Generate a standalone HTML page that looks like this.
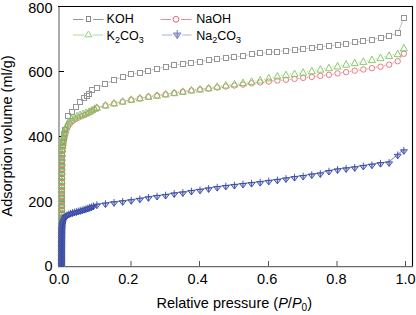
<!DOCTYPE html>
<html><head><meta charset="utf-8">
<style>
html,body{margin:0;padding:0;background:#fff;}
body{width:416px;height:315px;overflow:hidden;position:relative;font-family:"Liberation Sans",sans-serif;}
svg{position:absolute;left:0;top:0;}
</style></head><body>
<svg width="416" height="315" viewBox="0 0 416 315" font-family="Liberation Sans, sans-serif">
<defs><clipPath id="pc"><rect x="57" y="6" width="356" height="261"/></clipPath></defs>
<!-- axes -->
<line x1="59" y1="6" x2="59" y2="267" stroke="#ababab" stroke-width="2"/>
<line x1="58" y1="6.5" x2="413" y2="6.5" stroke="#000" stroke-width="1.1"/>
<line x1="412.5" y1="6" x2="412.5" y2="267" stroke="#000" stroke-width="1.1"/>
<line x1="58" y1="266.6" x2="413" y2="266.6" stroke="#6a6a6a" stroke-width="1.1"/>
<!-- y ticks -->
<g stroke="#000" stroke-width="1">
<line x1="59" y1="71.5" x2="64" y2="71.5"/>
<line x1="59" y1="136.5" x2="64" y2="136.5"/>
<line x1="59" y1="201.5" x2="64" y2="201.5"/>
</g>
<!-- x ticks -->
<g stroke="#555" stroke-width="1">
<line x1="131" y1="261" x2="131" y2="266"/>
<line x1="199.5" y1="261" x2="199.5" y2="266"/>
<line x1="268.5" y1="261" x2="268.5" y2="266"/>
<line x1="337" y1="261" x2="337" y2="266"/>
<line x1="405.5" y1="261" x2="405.5" y2="266"/>
</g>
<g clip-path="url(#pc)">
<path d="M65.72 126.98L67.48 119.32M100.06 86.47L102.61 85.19M108.4 82.47L111.14 81.27M117.08 78.89L119.66 77.95M125.74 75.98L128.18 75.29M134.39 73.76L136.72 73.28M142.98 71.92L145.33 71.38M151.57 69.97L153.92 69.43M160.18 68.06L162.51 67.57M168.8 66.38L171.08 66M177.36 64.77L179.71 64.23M186.01 63.16L188.25 62.91M194.6 62.19L196.84 61.94M203.18 61.1L205.45 60.75M211.79 59.9L214.03 59.64M220.39 58.91L222.62 58.67M228.98 57.96L231.22 57.71M237.54 56.76L239.85 56.32M246.16 55.25L248.43 54.9M254.77 54.06L257.01 53.81M263.36 53.09L265.6 52.84M271.96 52.11L274.2 51.86M280.55 51.14L282.79 50.89M289.15 50.16L291.39 49.91M297.76 49.31L299.97 49.14M306.34 48.52L308.58 48.26M314.93 47.45L317.18 47.14M323.53 46.37L325.76 46.13M332.13 45.45L334.36 45.22M340.71 44.45L342.96 44.14M349.3 43.22L351.57 42.88M357.9 41.96L360.16 41.64M366.47 40.61L368.77 40.19M375.04 38.88L377.4 38.33M383.66 36.98L385.97 36.53M392.15 34.93L394.66 34.1M398.94 30.16L402.66 21.28" fill="none" stroke="#959595" stroke-width="0.8" opacity="0.8"/>
<rect x="59.5" y="263.5" width="5" height="5" fill="none" stroke="#959595" stroke-width="1"/>
<rect x="59.5" y="259.5" width="5" height="5" fill="none" stroke="#959595" stroke-width="1"/>
<rect x="59.5" y="255.5" width="5" height="5" fill="none" stroke="#959595" stroke-width="1"/>
<rect x="59.5" y="251.5" width="5" height="5" fill="none" stroke="#959595" stroke-width="1"/>
<rect x="59.5" y="247.5" width="5" height="5" fill="none" stroke="#959595" stroke-width="1"/>
<rect x="59.5" y="243.5" width="5" height="5" fill="none" stroke="#959595" stroke-width="1"/>
<rect x="59.5" y="239.5" width="5" height="5" fill="none" stroke="#959595" stroke-width="1"/>
<rect x="59.5" y="235.5" width="5" height="5" fill="none" stroke="#959595" stroke-width="1"/>
<rect x="59.5" y="231.5" width="5" height="5" fill="none" stroke="#959595" stroke-width="1"/>
<rect x="59.5" y="227.5" width="5" height="5" fill="none" stroke="#959595" stroke-width="1"/>
<rect x="59.5" y="223.5" width="5" height="5" fill="none" stroke="#959595" stroke-width="1"/>
<rect x="59.5" y="219.5" width="5" height="5" fill="none" stroke="#959595" stroke-width="1"/>
<rect x="59.5" y="215.5" width="5" height="5" fill="none" stroke="#959595" stroke-width="1"/>
<rect x="59.5" y="211.5" width="5" height="5" fill="none" stroke="#959595" stroke-width="1"/>
<rect x="59.5" y="207.5" width="5" height="5" fill="none" stroke="#959595" stroke-width="1"/>
<rect x="59.5" y="203.5" width="5" height="5" fill="none" stroke="#959595" stroke-width="1"/>
<rect x="59.5" y="199.5" width="5" height="5" fill="none" stroke="#959595" stroke-width="1"/>
<rect x="59.5" y="195.5" width="5" height="5" fill="none" stroke="#959595" stroke-width="1"/>
<rect x="59.5" y="191.5" width="5" height="5" fill="none" stroke="#959595" stroke-width="1"/>
<rect x="59.5" y="187.5" width="5" height="5" fill="none" stroke="#959595" stroke-width="1"/>
<rect x="59.5" y="183.5" width="5" height="5" fill="none" stroke="#959595" stroke-width="1"/>
<rect x="59.5" y="179.5" width="5" height="5" fill="none" stroke="#959595" stroke-width="1"/>
<rect x="59.5" y="175.5" width="5" height="5" fill="none" stroke="#959595" stroke-width="1"/>
<rect x="59.5" y="171.5" width="5" height="5" fill="none" stroke="#959595" stroke-width="1"/>
<rect x="59.5" y="167.5" width="5" height="5" fill="none" stroke="#959595" stroke-width="1"/>
<rect x="59.5" y="163.5" width="5" height="5" fill="none" stroke="#959595" stroke-width="1"/>
<rect x="59.5" y="159.5" width="5" height="5" fill="none" stroke="#959595" stroke-width="1"/>
<rect x="59.5" y="155.5" width="5" height="5" fill="none" stroke="#959595" stroke-width="1"/>
<rect x="59.5" y="151.5" width="5" height="5" fill="none" stroke="#959595" stroke-width="1"/>
<rect x="59.5" y="147.5" width="5" height="5" fill="none" stroke="#959595" stroke-width="1"/>
<rect x="60.5" y="143.5" width="5" height="5" fill="none" stroke="#959595" stroke-width="1"/>
<rect x="60.5" y="139.5" width="5" height="5" fill="none" stroke="#959595" stroke-width="1"/>
<rect x="61.5" y="135.5" width="5" height="5" fill="none" stroke="#959595" stroke-width="1"/>
<rect x="61.5" y="131.5" width="5" height="5" fill="none" stroke="#959595" stroke-width="1"/>
<rect x="62.5" y="127.5" width="5" height="5" fill="none" stroke="#959595" stroke-width="1"/>
<rect x="65.5" y="113.5" width="5" height="5" fill="none" stroke="#959595" stroke-width="1"/>
<rect x="69.5" y="109.5" width="5" height="5" fill="none" stroke="#959595" stroke-width="1"/>
<rect x="73.5" y="104.5" width="5" height="5" fill="none" stroke="#959595" stroke-width="1"/>
<rect x="77.5" y="99.5" width="5" height="5" fill="none" stroke="#959595" stroke-width="1"/>
<rect x="81.5" y="95.5" width="5" height="5" fill="none" stroke="#959595" stroke-width="1"/>
<rect x="84.5" y="93.5" width="5" height="5" fill="none" stroke="#959595" stroke-width="1"/>
<rect x="86.5" y="91.5" width="5" height="5" fill="none" stroke="#959595" stroke-width="1"/>
<rect x="89.5" y="87.5" width="5" height="5" fill="none" stroke="#959595" stroke-width="1"/>
<rect x="94.5" y="85.5" width="5" height="5" fill="none" stroke="#959595" stroke-width="1"/>
<rect x="102.5" y="81.5" width="5" height="5" fill="none" stroke="#959595" stroke-width="1"/>
<rect x="111.5" y="77.5" width="5" height="5" fill="none" stroke="#959595" stroke-width="1"/>
<rect x="120.5" y="74.5" width="5" height="5" fill="none" stroke="#959595" stroke-width="1"/>
<rect x="128.5" y="71.5" width="5" height="5" fill="none" stroke="#959595" stroke-width="1"/>
<rect x="137.5" y="70.5" width="5" height="5" fill="none" stroke="#959595" stroke-width="1"/>
<rect x="145.5" y="68.5" width="5" height="5" fill="none" stroke="#959595" stroke-width="1"/>
<rect x="154.5" y="66.5" width="5" height="5" fill="none" stroke="#959595" stroke-width="1"/>
<rect x="163.5" y="64.5" width="5" height="5" fill="none" stroke="#959595" stroke-width="1"/>
<rect x="171.5" y="62.5" width="5" height="5" fill="none" stroke="#959595" stroke-width="1"/>
<rect x="180.5" y="61.5" width="5" height="5" fill="none" stroke="#959595" stroke-width="1"/>
<rect x="188.5" y="60.5" width="5" height="5" fill="none" stroke="#959595" stroke-width="1"/>
<rect x="197.5" y="59.5" width="5" height="5" fill="none" stroke="#959595" stroke-width="1"/>
<rect x="206.5" y="57.5" width="5" height="5" fill="none" stroke="#959595" stroke-width="1"/>
<rect x="214.5" y="56.5" width="5" height="5" fill="none" stroke="#959595" stroke-width="1"/>
<rect x="223.5" y="55.5" width="5" height="5" fill="none" stroke="#959595" stroke-width="1"/>
<rect x="231.5" y="54.5" width="5" height="5" fill="none" stroke="#959595" stroke-width="1"/>
<rect x="240.5" y="53.5" width="5" height="5" fill="none" stroke="#959595" stroke-width="1"/>
<rect x="249.5" y="51.5" width="5" height="5" fill="none" stroke="#959595" stroke-width="1"/>
<rect x="257.5" y="50.5" width="5" height="5" fill="none" stroke="#959595" stroke-width="1"/>
<rect x="266.5" y="49.5" width="5" height="5" fill="none" stroke="#959595" stroke-width="1"/>
<rect x="274.5" y="49.5" width="5" height="5" fill="none" stroke="#959595" stroke-width="1"/>
<rect x="283.5" y="48.5" width="5" height="5" fill="none" stroke="#959595" stroke-width="1"/>
<rect x="292.5" y="47.5" width="5" height="5" fill="none" stroke="#959595" stroke-width="1"/>
<rect x="300.5" y="46.5" width="5" height="5" fill="none" stroke="#959595" stroke-width="1"/>
<rect x="309.5" y="45.5" width="5" height="5" fill="none" stroke="#959595" stroke-width="1"/>
<rect x="317.5" y="44.5" width="5" height="5" fill="none" stroke="#959595" stroke-width="1"/>
<rect x="326.5" y="43.5" width="5" height="5" fill="none" stroke="#959595" stroke-width="1"/>
<rect x="335.5" y="42.5" width="5" height="5" fill="none" stroke="#959595" stroke-width="1"/>
<rect x="343.5" y="41.5" width="5" height="5" fill="none" stroke="#959595" stroke-width="1"/>
<rect x="352.5" y="39.5" width="5" height="5" fill="none" stroke="#959595" stroke-width="1"/>
<rect x="360.5" y="38.5" width="5" height="5" fill="none" stroke="#959595" stroke-width="1"/>
<rect x="369.5" y="37.5" width="5" height="5" fill="none" stroke="#959595" stroke-width="1"/>
<rect x="378.5" y="35.5" width="5" height="5" fill="none" stroke="#959595" stroke-width="1"/>
<rect x="386.5" y="33.5" width="5" height="5" fill="none" stroke="#959595" stroke-width="1"/>
<rect x="395.5" y="30.5" width="5" height="5" fill="none" stroke="#959595" stroke-width="1"/>
<rect x="401.5" y="15.5" width="5" height="5" fill="none" stroke="#959595" stroke-width="1"/>
<path d="M100.24 107.07L102.12 106.52M108.88 104.73L110.67 104.3M117.5 102.77L119.24 102.41M126.08 100.94L127.84 100.55M134.72 99.26L136.4 99M143.29 97.8L145.02 97.46M151.92 96.34L153.57 96.12M160.51 95.16L162.18 94.91M169.1 93.87L170.77 93.62M177.69 92.55L179.37 92.29M186.29 91.23L187.96 90.98M194.9 90.09L196.54 89.91M203.5 89.16L205.13 88.99M212.09 88.19L213.74 87.98M220.69 87.13L222.33 86.93M229.28 86.12L230.92 85.94M237.88 85.15L239.52 84.97M246.46 84.05L248.13 83.8M255.07 82.92L256.7 82.76M263.67 82.07L265.3 81.91M272.26 81.17L273.9 80.98M280.86 80.26L282.49 80.1M289.45 79.42L291.08 79.25M298.04 78.49L299.68 78.3M306.64 77.5L308.28 77.31M315.23 76.49L316.88 76.3M323.82 75.44L325.47 75.24M332.4 74.24L334.09 73.97M341 72.89L342.67 72.65M349.59 71.55L351.28 71.26M358.2 70.2L359.86 69.98M366.79 68.98L368.46 68.73M375.37 67.61L377.07 67.31M383.92 65.91L385.7 65.49M392.36 63.39L394.46 62.55M399.93 58.55L401.67 56.43" fill="none" stroke="#e86a78" stroke-width="0.8" opacity="0.8"/>
<circle cx="61.4" cy="263.79" r="2.7" fill="none" stroke="#e86a78" stroke-width="0.9"/>
<circle cx="61.4" cy="259.24" r="2.7" fill="none" stroke="#e86a78" stroke-width="0.9"/>
<circle cx="61.41" cy="254.7" r="2.7" fill="none" stroke="#e86a78" stroke-width="0.9"/>
<circle cx="61.42" cy="250.28" r="2.7" fill="none" stroke="#e86a78" stroke-width="0.9"/>
<circle cx="61.44" cy="245.73" r="2.7" fill="none" stroke="#e86a78" stroke-width="0.9"/>
<circle cx="61.45" cy="241.19" r="2.7" fill="none" stroke="#e86a78" stroke-width="0.9"/>
<circle cx="61.47" cy="236.76" r="2.7" fill="none" stroke="#e86a78" stroke-width="0.9"/>
<circle cx="61.5" cy="232.22" r="2.7" fill="none" stroke="#e86a78" stroke-width="0.9"/>
<circle cx="61.52" cy="227.8" r="2.7" fill="none" stroke="#e86a78" stroke-width="0.9"/>
<circle cx="61.55" cy="223.25" r="2.7" fill="none" stroke="#e86a78" stroke-width="0.9"/>
<circle cx="61.57" cy="218.71" r="2.7" fill="none" stroke="#e86a78" stroke-width="0.9"/>
<circle cx="61.6" cy="214.28" r="2.7" fill="none" stroke="#e86a78" stroke-width="0.9"/>
<circle cx="61.63" cy="209.74" r="2.7" fill="none" stroke="#e86a78" stroke-width="0.9"/>
<circle cx="61.66" cy="205.19" r="2.7" fill="none" stroke="#e86a78" stroke-width="0.9"/>
<circle cx="61.69" cy="200.77" r="2.7" fill="none" stroke="#e86a78" stroke-width="0.9"/>
<circle cx="61.73" cy="196.23" r="2.7" fill="none" stroke="#e86a78" stroke-width="0.9"/>
<circle cx="61.76" cy="191.68" r="2.7" fill="none" stroke="#e86a78" stroke-width="0.9"/>
<circle cx="61.8" cy="187.26" r="2.7" fill="none" stroke="#e86a78" stroke-width="0.9"/>
<circle cx="61.84" cy="182.71" r="2.7" fill="none" stroke="#e86a78" stroke-width="0.9"/>
<circle cx="61.89" cy="178.29" r="2.7" fill="none" stroke="#e86a78" stroke-width="0.9"/>
<circle cx="61.95" cy="173.74" r="2.7" fill="none" stroke="#e86a78" stroke-width="0.9"/>
<circle cx="62.02" cy="169.2" r="2.7" fill="none" stroke="#e86a78" stroke-width="0.9"/>
<circle cx="62.1" cy="164.78" r="2.7" fill="none" stroke="#e86a78" stroke-width="0.9"/>
<circle cx="62.19" cy="160.24" r="2.7" fill="none" stroke="#e86a78" stroke-width="0.9"/>
<circle cx="62.35" cy="155.69" r="2.7" fill="none" stroke="#e86a78" stroke-width="0.9"/>
<circle cx="62.59" cy="151.27" r="2.7" fill="none" stroke="#e86a78" stroke-width="0.9"/>
<circle cx="62.94" cy="146.74" r="2.7" fill="none" stroke="#e86a78" stroke-width="0.9"/>
<circle cx="63.29" cy="143.33" r="2.7" fill="none" stroke="#e86a78" stroke-width="0.9"/>
<circle cx="63.9" cy="139.81" r="2.7" fill="none" stroke="#e86a78" stroke-width="0.9"/>
<circle cx="64.65" cy="136.44" r="2.7" fill="none" stroke="#e86a78" stroke-width="0.9"/>
<circle cx="65.52" cy="132.98" r="2.7" fill="none" stroke="#e86a78" stroke-width="0.9"/>
<circle cx="66.56" cy="129.64" r="2.7" fill="none" stroke="#e86a78" stroke-width="0.9"/>
<circle cx="67.94" cy="126.42" r="2.7" fill="none" stroke="#e86a78" stroke-width="0.9"/>
<circle cx="69.94" cy="123.61" r="2.7" fill="none" stroke="#e86a78" stroke-width="0.9"/>
<circle cx="72.4" cy="121.22" r="2.7" fill="none" stroke="#e86a78" stroke-width="0.9"/>
<circle cx="75.35" cy="119.17" r="2.7" fill="none" stroke="#e86a78" stroke-width="0.9"/>
<circle cx="78.41" cy="117.62" r="2.7" fill="none" stroke="#e86a78" stroke-width="0.9"/>
<circle cx="81.69" cy="116.2" r="2.7" fill="none" stroke="#e86a78" stroke-width="0.9"/>
<circle cx="84.87" cy="114.87" r="2.7" fill="none" stroke="#e86a78" stroke-width="0.9"/>
<circle cx="88.13" cy="113.44" r="2.7" fill="none" stroke="#e86a78" stroke-width="0.9"/>
<circle cx="91.1" cy="111.71" r="2.7" fill="none" stroke="#e86a78" stroke-width="0.9"/>
<circle cx="93.95" cy="109.7" r="2.7" fill="none" stroke="#e86a78" stroke-width="0.9"/>
<circle cx="96.88" cy="108.05" r="2.7" fill="none" stroke="#e86a78" stroke-width="0.9"/>
<circle cx="105.47" cy="105.54" r="2.7" fill="none" stroke="#e86a78" stroke-width="0.9"/>
<circle cx="114.07" cy="103.49" r="2.7" fill="none" stroke="#e86a78" stroke-width="0.9"/>
<circle cx="122.66" cy="101.7" r="2.7" fill="none" stroke="#e86a78" stroke-width="0.9"/>
<circle cx="131.26" cy="99.79" r="2.7" fill="none" stroke="#e86a78" stroke-width="0.9"/>
<circle cx="139.85" cy="98.47" r="2.7" fill="none" stroke="#e86a78" stroke-width="0.9"/>
<circle cx="148.45" cy="96.79" r="2.7" fill="none" stroke="#e86a78" stroke-width="0.9"/>
<circle cx="157.04" cy="95.67" r="2.7" fill="none" stroke="#e86a78" stroke-width="0.9"/>
<circle cx="165.64" cy="94.39" r="2.7" fill="none" stroke="#e86a78" stroke-width="0.9"/>
<circle cx="174.23" cy="93.1" r="2.7" fill="none" stroke="#e86a78" stroke-width="0.9"/>
<circle cx="182.83" cy="91.74" r="2.7" fill="none" stroke="#e86a78" stroke-width="0.9"/>
<circle cx="191.42" cy="90.47" r="2.7" fill="none" stroke="#e86a78" stroke-width="0.9"/>
<circle cx="200.02" cy="89.52" r="2.7" fill="none" stroke="#e86a78" stroke-width="0.9"/>
<circle cx="208.61" cy="88.63" r="2.7" fill="none" stroke="#e86a78" stroke-width="0.9"/>
<circle cx="217.21" cy="87.54" r="2.7" fill="none" stroke="#e86a78" stroke-width="0.9"/>
<circle cx="225.8" cy="86.52" r="2.7" fill="none" stroke="#e86a78" stroke-width="0.9"/>
<circle cx="234.4" cy="85.54" r="2.7" fill="none" stroke="#e86a78" stroke-width="0.9"/>
<circle cx="242.99" cy="84.57" r="2.7" fill="none" stroke="#e86a78" stroke-width="0.9"/>
<circle cx="251.59" cy="83.27" r="2.7" fill="none" stroke="#e86a78" stroke-width="0.9"/>
<circle cx="260.18" cy="82.41" r="2.7" fill="none" stroke="#e86a78" stroke-width="0.9"/>
<circle cx="268.78" cy="81.56" r="2.7" fill="none" stroke="#e86a78" stroke-width="0.9"/>
<circle cx="277.38" cy="80.59" r="2.7" fill="none" stroke="#e86a78" stroke-width="0.9"/>
<circle cx="285.97" cy="79.78" r="2.7" fill="none" stroke="#e86a78" stroke-width="0.9"/>
<circle cx="294.56" cy="78.9" r="2.7" fill="none" stroke="#e86a78" stroke-width="0.9"/>
<circle cx="303.16" cy="77.89" r="2.7" fill="none" stroke="#e86a78" stroke-width="0.9"/>
<circle cx="311.75" cy="76.92" r="2.7" fill="none" stroke="#e86a78" stroke-width="0.9"/>
<circle cx="320.35" cy="75.88" r="2.7" fill="none" stroke="#e86a78" stroke-width="0.9"/>
<circle cx="328.94" cy="74.8" r="2.7" fill="none" stroke="#e86a78" stroke-width="0.9"/>
<circle cx="337.54" cy="73.4" r="2.7" fill="none" stroke="#e86a78" stroke-width="0.9"/>
<circle cx="346.13" cy="72.14" r="2.7" fill="none" stroke="#e86a78" stroke-width="0.9"/>
<circle cx="354.73" cy="70.68" r="2.7" fill="none" stroke="#e86a78" stroke-width="0.9"/>
<circle cx="363.32" cy="69.5" r="2.7" fill="none" stroke="#e86a78" stroke-width="0.9"/>
<circle cx="371.92" cy="68.2" r="2.7" fill="none" stroke="#e86a78" stroke-width="0.9"/>
<circle cx="380.51" cy="66.71" r="2.7" fill="none" stroke="#e86a78" stroke-width="0.9"/>
<circle cx="389.11" cy="64.7" r="2.7" fill="none" stroke="#e86a78" stroke-width="0.9"/>
<circle cx="397.7" cy="61.25" r="2.7" fill="none" stroke="#e86a78" stroke-width="0.9"/>
<circle cx="403.89" cy="53.73" r="2.7" fill="none" stroke="#e86a78" stroke-width="0.9"/>
<path d="M100.55 106.56L101.81 106.21M109.17 104.33L110.37 104.05M117.79 102.39L118.95 102.15M126.38 100.56L127.55 100.31M135.01 98.91L136.1 98.74M143.59 97.44L144.72 97.23M152.22 96.05L153.27 95.92M160.8 94.89L161.88 94.73M169.4 93.6L170.48 93.44M177.99 92.28L179.08 92.11M186.58 90.92L187.67 90.75M195.2 89.73L196.24 89.62M203.78 88.68L204.85 88.53M212.35 87.33L213.47 87.12M220.97 85.91L222.04 85.76M229.57 84.73L230.63 84.59M238.16 83.53L239.24 83.37M246.75 82.24L247.83 82.07M255.34 80.92L256.43 80.75M263.88 79.3L265.08 79.02M272.49 77.31L273.67 77.04M281.13 75.63L282.21 75.47M289.74 74.42L290.8 74.28M298.32 73.19L299.41 73.01M306.91 71.79L308 71.61M315.49 70.29L316.62 70.08M324.1 68.74L325.2 68.55M332.67 67.17L333.81 66.94M341.25 65.39L342.42 65.14M349.88 63.7L350.98 63.51M358.49 62.31L359.57 62.14M367.05 60.8L368.2 60.56M375.62 58.93L376.81 58.66M384.2 56.86L385.43 56.54M392.84 54.86L393.98 54.63M400.46 51.28L401.13 50.65" fill="none" stroke="#7cc45a" stroke-width="0.8" opacity="0.8"/>
<path d="M61.4 262.3 L64.9 268.8 L57.9 268.8 Z" fill="none" stroke="#7cc45a" stroke-width="0.9"/>
<path d="M61.4 257.74 L64.9 264.24 L57.9 264.24 Z" fill="none" stroke="#7cc45a" stroke-width="0.9"/>
<path d="M61.41 253.18 L64.91 259.68 L57.91 259.68 Z" fill="none" stroke="#7cc45a" stroke-width="0.9"/>
<path d="M61.41 248.75 L64.91 255.25 L57.91 255.25 Z" fill="none" stroke="#7cc45a" stroke-width="0.9"/>
<path d="M61.42 244.19 L64.92 250.69 L57.92 250.69 Z" fill="none" stroke="#7cc45a" stroke-width="0.9"/>
<path d="M61.43 239.75 L64.93 246.25 L57.93 246.25 Z" fill="none" stroke="#7cc45a" stroke-width="0.9"/>
<path d="M61.45 235.2 L64.95 241.7 L57.95 241.7 Z" fill="none" stroke="#7cc45a" stroke-width="0.9"/>
<path d="M61.46 230.76 L64.96 237.26 L57.96 237.26 Z" fill="none" stroke="#7cc45a" stroke-width="0.9"/>
<path d="M61.48 226.2 L64.98 232.7 L57.98 232.7 Z" fill="none" stroke="#7cc45a" stroke-width="0.9"/>
<path d="M61.49 221.77 L64.99 228.27 L57.99 228.27 Z" fill="none" stroke="#7cc45a" stroke-width="0.9"/>
<path d="M61.51 217.21 L65.01 223.71 L58.01 223.71 Z" fill="none" stroke="#7cc45a" stroke-width="0.9"/>
<path d="M61.53 212.77 L65.03 219.27 L58.03 219.27 Z" fill="none" stroke="#7cc45a" stroke-width="0.9"/>
<path d="M61.55 208.21 L65.05 214.71 L58.05 214.71 Z" fill="none" stroke="#7cc45a" stroke-width="0.9"/>
<path d="M61.57 203.78 L65.07 210.28 L58.07 210.28 Z" fill="none" stroke="#7cc45a" stroke-width="0.9"/>
<path d="M61.59 199.22 L65.09 205.72 L58.09 205.72 Z" fill="none" stroke="#7cc45a" stroke-width="0.9"/>
<path d="M61.61 194.79 L65.11 201.29 L58.11 201.29 Z" fill="none" stroke="#7cc45a" stroke-width="0.9"/>
<path d="M61.63 190.23 L65.13 196.73 L58.13 196.73 Z" fill="none" stroke="#7cc45a" stroke-width="0.9"/>
<path d="M61.65 185.79 L65.15 192.29 L58.15 192.29 Z" fill="none" stroke="#7cc45a" stroke-width="0.9"/>
<path d="M61.67 181.23 L65.17 187.73 L58.17 187.73 Z" fill="none" stroke="#7cc45a" stroke-width="0.9"/>
<path d="M61.7 176.8 L65.2 183.3 L58.2 183.3 Z" fill="none" stroke="#7cc45a" stroke-width="0.9"/>
<path d="M61.73 172.24 L65.23 178.74 L58.23 178.74 Z" fill="none" stroke="#7cc45a" stroke-width="0.9"/>
<path d="M61.77 167.68 L65.27 174.18 L58.27 174.18 Z" fill="none" stroke="#7cc45a" stroke-width="0.9"/>
<path d="M61.81 163.24 L65.31 169.74 L58.31 169.74 Z" fill="none" stroke="#7cc45a" stroke-width="0.9"/>
<path d="M61.87 158.69 L65.37 165.19 L58.37 165.19 Z" fill="none" stroke="#7cc45a" stroke-width="0.9"/>
<path d="M61.94 154.25 L65.44 160.75 L58.44 160.75 Z" fill="none" stroke="#7cc45a" stroke-width="0.9"/>
<path d="M62.1 149.69 L65.6 156.19 L58.6 156.19 Z" fill="none" stroke="#7cc45a" stroke-width="0.9"/>
<path d="M62.33 145.26 L65.83 151.76 L58.83 151.76 Z" fill="none" stroke="#7cc45a" stroke-width="0.9"/>
<path d="M62.54 142.07 L66.04 148.57 L59.04 148.57 Z" fill="none" stroke="#7cc45a" stroke-width="0.9"/>
<path d="M62.84 138.88 L66.34 145.38 L59.34 145.38 Z" fill="none" stroke="#7cc45a" stroke-width="0.9"/>
<path d="M63.29 135.71 L66.79 142.21 L59.79 142.21 Z" fill="none" stroke="#7cc45a" stroke-width="0.9"/>
<path d="M63.86 132.55 L67.36 139.05 L60.36 139.05 Z" fill="none" stroke="#7cc45a" stroke-width="0.9"/>
<path d="M64.49 129.41 L67.99 135.91 L60.99 135.91 Z" fill="none" stroke="#7cc45a" stroke-width="0.9"/>
<path d="M65.27 126.26 L68.77 132.76 L61.77 132.76 Z" fill="none" stroke="#7cc45a" stroke-width="0.9"/>
<path d="M66.25 123.22 L69.75 129.72 L62.75 129.72 Z" fill="none" stroke="#7cc45a" stroke-width="0.9"/>
<path d="M67.54 120.3 L71.04 126.8 L64.04 126.8 Z" fill="none" stroke="#7cc45a" stroke-width="0.9"/>
<path d="M69.25 117.67 L72.75 124.17 L65.75 124.17 Z" fill="none" stroke="#7cc45a" stroke-width="0.9"/>
<path d="M71.57 115.43 L75.07 121.93 L68.07 121.93 Z" fill="none" stroke="#7cc45a" stroke-width="0.9"/>
<path d="M74.22 113.73 L77.72 120.23 L70.72 120.23 Z" fill="none" stroke="#7cc45a" stroke-width="0.9"/>
<path d="M77.08 112.29 L80.58 118.79 L73.58 118.79 Z" fill="none" stroke="#7cc45a" stroke-width="0.9"/>
<path d="M80.05 111.08 L83.55 117.58 L76.55 117.58 Z" fill="none" stroke="#7cc45a" stroke-width="0.9"/>
<path d="M83.08 110.02 L86.58 116.52 L79.58 116.52 Z" fill="none" stroke="#7cc45a" stroke-width="0.9"/>
<path d="M86.12 109.01 L89.62 115.51 L82.62 115.51 Z" fill="none" stroke="#7cc45a" stroke-width="0.9"/>
<path d="M89.08 107.82 L92.58 114.32 L85.58 114.32 Z" fill="none" stroke="#7cc45a" stroke-width="0.9"/>
<path d="M91.93 106.3 L95.43 112.8 L88.43 112.8 Z" fill="none" stroke="#7cc45a" stroke-width="0.9"/>
<path d="M94.76 104.77 L98.26 111.27 L91.26 111.27 Z" fill="none" stroke="#7cc45a" stroke-width="0.9"/>
<path d="M96.88 103.86 L100.38 110.36 L93.38 110.36 Z" fill="none" stroke="#7cc45a" stroke-width="0.9"/>
<path d="M105.47 101.51 L108.97 108.01 L101.97 108.01 Z" fill="none" stroke="#7cc45a" stroke-width="0.9"/>
<path d="M114.07 99.47 L117.57 105.97 L110.57 105.97 Z" fill="none" stroke="#7cc45a" stroke-width="0.9"/>
<path d="M122.66 97.67 L126.16 104.17 L119.16 104.17 Z" fill="none" stroke="#7cc45a" stroke-width="0.9"/>
<path d="M131.26 95.8 L134.76 102.3 L127.76 102.3 Z" fill="none" stroke="#7cc45a" stroke-width="0.9"/>
<path d="M139.85 94.44 L143.35 100.94 L136.35 100.94 Z" fill="none" stroke="#7cc45a" stroke-width="0.9"/>
<path d="M148.45 92.82 L151.95 99.32 L144.95 99.32 Z" fill="none" stroke="#7cc45a" stroke-width="0.9"/>
<path d="M157.04 91.74 L160.54 98.24 L153.54 98.24 Z" fill="none" stroke="#7cc45a" stroke-width="0.9"/>
<path d="M165.64 90.47 L169.14 96.97 L162.14 96.97 Z" fill="none" stroke="#7cc45a" stroke-width="0.9"/>
<path d="M174.23 89.17 L177.73 95.67 L170.73 95.67 Z" fill="none" stroke="#7cc45a" stroke-width="0.9"/>
<path d="M182.83 87.82 L186.33 94.32 L179.33 94.32 Z" fill="none" stroke="#7cc45a" stroke-width="0.9"/>
<path d="M191.42 86.45 L194.92 92.95 L187.92 92.95 Z" fill="none" stroke="#7cc45a" stroke-width="0.9"/>
<path d="M200.02 85.5 L203.52 92 L196.52 92 Z" fill="none" stroke="#7cc45a" stroke-width="0.9"/>
<path d="M208.61 84.31 L212.11 90.81 L205.11 90.81 Z" fill="none" stroke="#7cc45a" stroke-width="0.9"/>
<path d="M217.21 82.74 L220.71 89.24 L213.71 89.24 Z" fill="none" stroke="#7cc45a" stroke-width="0.9"/>
<path d="M225.8 81.53 L229.3 88.03 L222.3 88.03 Z" fill="none" stroke="#7cc45a" stroke-width="0.9"/>
<path d="M234.4 80.4 L237.9 86.9 L230.9 86.9 Z" fill="none" stroke="#7cc45a" stroke-width="0.9"/>
<path d="M242.99 79.1 L246.49 85.6 L239.49 85.6 Z" fill="none" stroke="#7cc45a" stroke-width="0.9"/>
<path d="M251.59 77.81 L255.09 84.31 L248.09 84.31 Z" fill="none" stroke="#7cc45a" stroke-width="0.9"/>
<path d="M260.18 76.46 L263.68 82.96 L256.68 82.96 Z" fill="none" stroke="#7cc45a" stroke-width="0.9"/>
<path d="M268.78 74.45 L272.28 80.95 L265.28 80.95 Z" fill="none" stroke="#7cc45a" stroke-width="0.9"/>
<path d="M277.38 72.5 L280.88 79 L273.88 79 Z" fill="none" stroke="#7cc45a" stroke-width="0.9"/>
<path d="M285.97 71.2 L289.47 77.7 L282.47 77.7 Z" fill="none" stroke="#7cc45a" stroke-width="0.9"/>
<path d="M294.56 70.1 L298.06 76.6 L291.06 76.6 Z" fill="none" stroke="#7cc45a" stroke-width="0.9"/>
<path d="M303.16 68.7 L306.66 75.2 L299.66 75.2 Z" fill="none" stroke="#7cc45a" stroke-width="0.9"/>
<path d="M311.75 67.3 L315.25 73.8 L308.25 73.8 Z" fill="none" stroke="#7cc45a" stroke-width="0.9"/>
<path d="M320.35 65.67 L323.85 72.17 L316.85 72.17 Z" fill="none" stroke="#7cc45a" stroke-width="0.9"/>
<path d="M328.94 64.21 L332.44 70.71 L325.44 70.71 Z" fill="none" stroke="#7cc45a" stroke-width="0.9"/>
<path d="M337.54 62.49 L341.04 68.99 L334.04 68.99 Z" fill="none" stroke="#7cc45a" stroke-width="0.9"/>
<path d="M346.13 60.64 L349.63 67.14 L342.63 67.14 Z" fill="none" stroke="#7cc45a" stroke-width="0.9"/>
<path d="M354.73 59.18 L358.23 65.68 L351.23 65.68 Z" fill="none" stroke="#7cc45a" stroke-width="0.9"/>
<path d="M363.32 57.87 L366.82 64.38 L359.82 64.38 Z" fill="none" stroke="#7cc45a" stroke-width="0.9"/>
<path d="M371.92 56.09 L375.42 62.59 L368.42 62.59 Z" fill="none" stroke="#7cc45a" stroke-width="0.9"/>
<path d="M380.51 54.11 L384.01 60.61 L377.01 60.61 Z" fill="none" stroke="#7cc45a" stroke-width="0.9"/>
<path d="M389.11 51.9 L392.61 58.4 L385.61 58.4 Z" fill="none" stroke="#7cc45a" stroke-width="0.9"/>
<path d="M397.7 50.19 L401.2 56.69 L394.2 56.69 Z" fill="none" stroke="#7cc45a" stroke-width="0.9"/>
<path d="M403.89 44.33 L407.39 50.83 L400.39 50.83 Z" fill="none" stroke="#7cc45a" stroke-width="0.9"/>
<path d="M61.6 264.9L61.6 262.8M61.6 262.8L61.6 260.8M61.6 260.8L61.61 258.81M61.61 258.81L61.61 256.81M61.61 256.81L61.62 254.81M61.62 254.81L61.62 252.81M61.62 252.81L61.63 250.82M61.63 250.82L61.64 248.82M61.64 248.82L61.65 246.82M61.65 246.82L61.66 244.82M61.66 244.82L61.67 242.83M61.67 242.83L61.69 240.83M61.69 240.83L61.7 238.83M61.7 238.83L61.72 236.83M61.72 236.83L61.75 234.84M61.75 234.84L61.79 232.84M61.79 232.84L61.84 230.84M61.84 230.84L61.9 228.85M61.9 228.85L62.01 226.85M62.01 226.85L62.19 224.85M62.19 224.85L62.43 222.87M62.43 222.87L62.79 220.9M62.79 220.9L63.37 218.95M63.37 218.95L64.18 217.2M64.18 217.2L65.48 215.59M65.48 215.59L66.99 214.36M66.99 214.36L68.76 213.41M68.76 213.41L70.55 212.67M70.55 212.67L72.52 211.98M72.52 211.98L74.43 211.41M74.43 211.41L76.37 210.9M76.37 210.9L78.31 210.38M78.31 210.38L80.23 209.83M80.23 209.83L82.14 209.25M82.14 209.25L84.05 208.65M84.05 208.65L85.95 208.05M85.95 208.05L87.85 207.43M87.85 207.43L89.74 206.79M89.74 206.79L91.62 206.07M91.62 206.07L93.38 205.31M93.38 205.31L96.88 204.12M96.88 204.12L105.47 203.03M105.47 203.03L114.07 201.78M114.07 201.78L122.66 200.79M122.66 200.79L131.26 199.72M131.26 199.72L139.85 198.29M139.85 198.29L148.45 196.82M148.45 196.82L157.04 195.48M157.04 195.48L165.64 194.54M165.64 194.54L174.23 192.91M174.23 192.91L182.83 191.91M182.83 191.91L191.42 190.48M191.42 190.48L200.02 189.31M200.02 189.31L208.61 187.88M208.61 187.88L217.21 186.58M217.21 186.58L225.8 185.44M225.8 185.44L234.4 184.46M234.4 184.46L242.99 183.44M242.99 183.44L251.59 182.58M251.59 182.58L260.18 181.59M260.18 181.59L268.78 180.4M268.78 180.4L277.38 179.39M277.38 179.39L285.97 177.91M285.97 177.91L294.56 176.59M294.56 176.59L303.16 175.53M303.16 175.53L311.75 174.01M311.75 174.01L320.35 172.91M320.35 172.91L328.94 170.49M328.94 170.49L337.54 168.9M337.54 168.9L346.13 167.87M346.13 167.87L354.73 166.82M354.73 166.82L363.32 165.4M363.32 165.4L371.92 164.15M371.92 164.15L380.51 162.65M380.51 162.65L389.11 161.88M389.11 161.88L397.7 154.29M397.7 154.29L403.89 149.76" fill="none" stroke="#3848a4" stroke-width="0.9" opacity="0.8"/>
<path d="M58.1 264.9 L65.1 264.9 L61.6 269.4 Z M61.6 262.1 L61.6 269.4" fill="#5a68b8" fill-opacity="0.9" stroke="#3848a4" stroke-width="0.9"/>
<path d="M58.1 262.8 L65.1 262.8 L61.6 267.3 Z M61.6 260 L61.6 267.3" fill="#5a68b8" fill-opacity="0.9" stroke="#3848a4" stroke-width="0.9"/>
<path d="M58.1 260.8 L65.1 260.8 L61.6 265.3 Z M61.6 258 L61.6 265.3" fill="#5a68b8" fill-opacity="0.9" stroke="#3848a4" stroke-width="0.9"/>
<path d="M58.11 258.81 L65.11 258.81 L61.61 263.31 Z M61.61 256.01 L61.61 263.31" fill="#5a68b8" fill-opacity="0.9" stroke="#3848a4" stroke-width="0.9"/>
<path d="M58.11 256.81 L65.11 256.81 L61.61 261.31 Z M61.61 254.01 L61.61 261.31" fill="#5a68b8" fill-opacity="0.9" stroke="#3848a4" stroke-width="0.9"/>
<path d="M58.12 254.81 L65.12 254.81 L61.62 259.31 Z M61.62 252.01 L61.62 259.31" fill="#5a68b8" fill-opacity="0.9" stroke="#3848a4" stroke-width="0.9"/>
<path d="M58.12 252.81 L65.12 252.81 L61.62 257.31 Z M61.62 250.01 L61.62 257.31" fill="#5a68b8" fill-opacity="0.9" stroke="#3848a4" stroke-width="0.9"/>
<path d="M58.13 250.82 L65.13 250.82 L61.63 255.32 Z M61.63 248.02 L61.63 255.32" fill="#5a68b8" fill-opacity="0.9" stroke="#3848a4" stroke-width="0.9"/>
<path d="M58.14 248.82 L65.14 248.82 L61.64 253.32 Z M61.64 246.02 L61.64 253.32" fill="#5a68b8" fill-opacity="0.9" stroke="#3848a4" stroke-width="0.9"/>
<path d="M58.15 246.82 L65.15 246.82 L61.65 251.32 Z M61.65 244.02 L61.65 251.32" fill="#5a68b8" fill-opacity="0.9" stroke="#3848a4" stroke-width="0.9"/>
<path d="M58.16 244.82 L65.16 244.82 L61.66 249.32 Z M61.66 242.02 L61.66 249.32" fill="#5a68b8" fill-opacity="0.9" stroke="#3848a4" stroke-width="0.9"/>
<path d="M58.17 242.83 L65.17 242.83 L61.67 247.33 Z M61.67 240.03 L61.67 247.33" fill="#5a68b8" fill-opacity="0.9" stroke="#3848a4" stroke-width="0.9"/>
<path d="M58.19 240.83 L65.19 240.83 L61.69 245.33 Z M61.69 238.03 L61.69 245.33" fill="#5a68b8" fill-opacity="0.9" stroke="#3848a4" stroke-width="0.9"/>
<path d="M58.2 238.83 L65.2 238.83 L61.7 243.33 Z M61.7 236.03 L61.7 243.33" fill="#5a68b8" fill-opacity="0.9" stroke="#3848a4" stroke-width="0.9"/>
<path d="M58.22 236.83 L65.22 236.83 L61.72 241.33 Z M61.72 234.03 L61.72 241.33" fill="#5a68b8" fill-opacity="0.9" stroke="#3848a4" stroke-width="0.9"/>
<path d="M58.25 234.84 L65.25 234.84 L61.75 239.34 Z M61.75 232.04 L61.75 239.34" fill="#5a68b8" fill-opacity="0.9" stroke="#3848a4" stroke-width="0.9"/>
<path d="M58.29 232.84 L65.29 232.84 L61.79 237.34 Z M61.79 230.04 L61.79 237.34" fill="#5a68b8" fill-opacity="0.9" stroke="#3848a4" stroke-width="0.9"/>
<path d="M58.34 230.84 L65.34 230.84 L61.84 235.34 Z M61.84 228.04 L61.84 235.34" fill="#5a68b8" fill-opacity="0.9" stroke="#3848a4" stroke-width="0.9"/>
<path d="M58.4 228.85 L65.4 228.85 L61.9 233.35 Z M61.9 226.05 L61.9 233.35" fill="#5a68b8" fill-opacity="0.9" stroke="#3848a4" stroke-width="0.9"/>
<path d="M58.51 226.85 L65.51 226.85 L62.01 231.35 Z M62.01 224.05 L62.01 231.35" fill="#5a68b8" fill-opacity="0.9" stroke="#3848a4" stroke-width="0.9"/>
<path d="M58.69 224.85 L65.69 224.85 L62.19 229.35 Z M62.19 222.05 L62.19 229.35" fill="#5a68b8" fill-opacity="0.9" stroke="#3848a4" stroke-width="0.9"/>
<path d="M58.93 222.87 L65.93 222.87 L62.43 227.37 Z M62.43 220.07 L62.43 227.37" fill="#5a68b8" fill-opacity="0.9" stroke="#3848a4" stroke-width="0.9"/>
<path d="M59.29 220.9 L66.29 220.9 L62.79 225.4 Z M62.79 218.1 L62.79 225.4" fill="#5a68b8" fill-opacity="0.9" stroke="#3848a4" stroke-width="0.9"/>
<path d="M59.87 218.95 L66.87 218.95 L63.37 223.45 Z M63.37 216.15 L63.37 223.45" fill="#5a68b8" fill-opacity="0.9" stroke="#3848a4" stroke-width="0.9"/>
<path d="M60.68 217.2 L67.68 217.2 L64.18 221.7 Z M64.18 214.4 L64.18 221.7" fill="#5a68b8" fill-opacity="0.9" stroke="#3848a4" stroke-width="0.9"/>
<path d="M61.98 215.59 L68.98 215.59 L65.48 220.09 Z M65.48 212.79 L65.48 220.09" fill="#5a68b8" fill-opacity="0.9" stroke="#3848a4" stroke-width="0.9"/>
<path d="M63.49 214.36 L70.49 214.36 L66.99 218.86 Z M66.99 211.56 L66.99 218.86" fill="#5a68b8" fill-opacity="0.9" stroke="#3848a4" stroke-width="0.9"/>
<path d="M65.26 213.41 L72.26 213.41 L68.76 217.91 Z M68.76 210.61 L68.76 217.91" fill="#5a68b8" fill-opacity="0.9" stroke="#3848a4" stroke-width="0.9"/>
<path d="M67.05 212.67 L74.05 212.67 L70.55 217.17 Z M70.55 209.87 L70.55 217.17" fill="#5a68b8" fill-opacity="0.9" stroke="#3848a4" stroke-width="0.9"/>
<path d="M69.02 211.98 L76.02 211.98 L72.52 216.48 Z M72.52 209.18 L72.52 216.48" fill="#5a68b8" fill-opacity="0.9" stroke="#3848a4" stroke-width="0.9"/>
<path d="M70.93 211.41 L77.93 211.41 L74.43 215.91 Z M74.43 208.61 L74.43 215.91" fill="#5a68b8" fill-opacity="0.9" stroke="#3848a4" stroke-width="0.9"/>
<path d="M72.87 210.9 L79.87 210.9 L76.37 215.4 Z M76.37 208.1 L76.37 215.4" fill="#5a68b8" fill-opacity="0.9" stroke="#3848a4" stroke-width="0.9"/>
<path d="M74.81 210.38 L81.81 210.38 L78.31 214.88 Z M78.31 207.58 L78.31 214.88" fill="#5a68b8" fill-opacity="0.9" stroke="#3848a4" stroke-width="0.9"/>
<path d="M76.73 209.83 L83.73 209.83 L80.23 214.33 Z M80.23 207.03 L80.23 214.33" fill="#5a68b8" fill-opacity="0.9" stroke="#3848a4" stroke-width="0.9"/>
<path d="M78.64 209.25 L85.64 209.25 L82.14 213.75 Z M82.14 206.45 L82.14 213.75" fill="#5a68b8" fill-opacity="0.9" stroke="#3848a4" stroke-width="0.9"/>
<path d="M80.55 208.65 L87.55 208.65 L84.05 213.15 Z M84.05 205.85 L84.05 213.15" fill="#5a68b8" fill-opacity="0.9" stroke="#3848a4" stroke-width="0.9"/>
<path d="M82.45 208.05 L89.45 208.05 L85.95 212.55 Z M85.95 205.25 L85.95 212.55" fill="#5a68b8" fill-opacity="0.9" stroke="#3848a4" stroke-width="0.9"/>
<path d="M84.35 207.43 L91.35 207.43 L87.85 211.93 Z M87.85 204.63 L87.85 211.93" fill="#5a68b8" fill-opacity="0.9" stroke="#3848a4" stroke-width="0.9"/>
<path d="M86.24 206.79 L93.24 206.79 L89.74 211.29 Z M89.74 203.99 L89.74 211.29" fill="#5a68b8" fill-opacity="0.9" stroke="#3848a4" stroke-width="0.9"/>
<path d="M88.12 206.07 L95.12 206.07 L91.62 210.57 Z M91.62 203.27 L91.62 210.57" fill="#5a68b8" fill-opacity="0.9" stroke="#3848a4" stroke-width="0.9"/>
<path d="M89.88 205.31 L96.88 205.31 L93.38 209.81 Z M93.38 202.51 L93.38 209.81" fill="#5a68b8" fill-opacity="0.9" stroke="#3848a4" stroke-width="0.9"/>
<path d="M93.38 204.12 L100.38 204.12 L96.88 208.62 Z M96.88 201.32 L96.88 208.62" fill="#5a68b8" fill-opacity="0.3" stroke="#3848a4" stroke-width="0.9"/>
<path d="M101.97 203.03 L108.97 203.03 L105.47 207.53 Z M105.47 200.23 L105.47 207.53" fill="#5a68b8" fill-opacity="0.3" stroke="#3848a4" stroke-width="0.9"/>
<path d="M110.57 201.78 L117.57 201.78 L114.07 206.28 Z M114.07 198.98 L114.07 206.28" fill="#5a68b8" fill-opacity="0.3" stroke="#3848a4" stroke-width="0.9"/>
<path d="M119.16 200.79 L126.16 200.79 L122.66 205.29 Z M122.66 197.99 L122.66 205.29" fill="#5a68b8" fill-opacity="0.3" stroke="#3848a4" stroke-width="0.9"/>
<path d="M127.76 199.72 L134.76 199.72 L131.26 204.22 Z M131.26 196.92 L131.26 204.22" fill="#5a68b8" fill-opacity="0.3" stroke="#3848a4" stroke-width="0.9"/>
<path d="M136.35 198.29 L143.35 198.29 L139.85 202.79 Z M139.85 195.49 L139.85 202.79" fill="#5a68b8" fill-opacity="0.3" stroke="#3848a4" stroke-width="0.9"/>
<path d="M144.95 196.82 L151.95 196.82 L148.45 201.32 Z M148.45 194.02 L148.45 201.32" fill="#5a68b8" fill-opacity="0.3" stroke="#3848a4" stroke-width="0.9"/>
<path d="M153.54 195.48 L160.54 195.48 L157.04 199.98 Z M157.04 192.68 L157.04 199.98" fill="#5a68b8" fill-opacity="0.3" stroke="#3848a4" stroke-width="0.9"/>
<path d="M162.14 194.54 L169.14 194.54 L165.64 199.04 Z M165.64 191.74 L165.64 199.04" fill="#5a68b8" fill-opacity="0.3" stroke="#3848a4" stroke-width="0.9"/>
<path d="M170.73 192.91 L177.73 192.91 L174.23 197.41 Z M174.23 190.11 L174.23 197.41" fill="#5a68b8" fill-opacity="0.3" stroke="#3848a4" stroke-width="0.9"/>
<path d="M179.33 191.91 L186.33 191.91 L182.83 196.41 Z M182.83 189.1 L182.83 196.41" fill="#5a68b8" fill-opacity="0.3" stroke="#3848a4" stroke-width="0.9"/>
<path d="M187.92 190.48 L194.92 190.48 L191.42 194.98 Z M191.42 187.68 L191.42 194.98" fill="#5a68b8" fill-opacity="0.3" stroke="#3848a4" stroke-width="0.9"/>
<path d="M196.52 189.31 L203.52 189.31 L200.02 193.81 Z M200.02 186.51 L200.02 193.81" fill="#5a68b8" fill-opacity="0.3" stroke="#3848a4" stroke-width="0.9"/>
<path d="M205.11 187.88 L212.11 187.88 L208.61 192.38 Z M208.61 185.07 L208.61 192.38" fill="#5a68b8" fill-opacity="0.3" stroke="#3848a4" stroke-width="0.9"/>
<path d="M213.71 186.58 L220.71 186.58 L217.21 191.08 Z M217.21 183.78 L217.21 191.08" fill="#5a68b8" fill-opacity="0.3" stroke="#3848a4" stroke-width="0.9"/>
<path d="M222.3 185.44 L229.3 185.44 L225.8 189.94 Z M225.8 182.64 L225.8 189.94" fill="#5a68b8" fill-opacity="0.3" stroke="#3848a4" stroke-width="0.9"/>
<path d="M230.9 184.46 L237.9 184.46 L234.4 188.96 Z M234.4 181.66 L234.4 188.96" fill="#5a68b8" fill-opacity="0.3" stroke="#3848a4" stroke-width="0.9"/>
<path d="M239.49 183.44 L246.49 183.44 L242.99 187.94 Z M242.99 180.64 L242.99 187.94" fill="#5a68b8" fill-opacity="0.3" stroke="#3848a4" stroke-width="0.9"/>
<path d="M248.09 182.58 L255.09 182.58 L251.59 187.08 Z M251.59 179.78 L251.59 187.08" fill="#5a68b8" fill-opacity="0.3" stroke="#3848a4" stroke-width="0.9"/>
<path d="M256.68 181.59 L263.68 181.59 L260.18 186.09 Z M260.18 178.79 L260.18 186.09" fill="#5a68b8" fill-opacity="0.3" stroke="#3848a4" stroke-width="0.9"/>
<path d="M265.28 180.4 L272.28 180.4 L268.78 184.9 Z M268.78 177.6 L268.78 184.9" fill="#5a68b8" fill-opacity="0.3" stroke="#3848a4" stroke-width="0.9"/>
<path d="M273.88 179.39 L280.88 179.39 L277.38 183.89 Z M277.38 176.59 L277.38 183.89" fill="#5a68b8" fill-opacity="0.3" stroke="#3848a4" stroke-width="0.9"/>
<path d="M282.47 177.91 L289.47 177.91 L285.97 182.41 Z M285.97 175.11 L285.97 182.41" fill="#5a68b8" fill-opacity="0.3" stroke="#3848a4" stroke-width="0.9"/>
<path d="M291.06 176.59 L298.06 176.59 L294.56 181.09 Z M294.56 173.79 L294.56 181.09" fill="#5a68b8" fill-opacity="0.3" stroke="#3848a4" stroke-width="0.9"/>
<path d="M299.66 175.53 L306.66 175.53 L303.16 180.03 Z M303.16 172.72 L303.16 180.03" fill="#5a68b8" fill-opacity="0.3" stroke="#3848a4" stroke-width="0.9"/>
<path d="M308.25 174.01 L315.25 174.01 L311.75 178.51 Z M311.75 171.21 L311.75 178.51" fill="#5a68b8" fill-opacity="0.3" stroke="#3848a4" stroke-width="0.9"/>
<path d="M316.85 172.91 L323.85 172.91 L320.35 177.41 Z M320.35 170.11 L320.35 177.41" fill="#5a68b8" fill-opacity="0.3" stroke="#3848a4" stroke-width="0.9"/>
<path d="M325.44 170.49 L332.44 170.49 L328.94 174.99 Z M328.94 167.69 L328.94 174.99" fill="#5a68b8" fill-opacity="0.3" stroke="#3848a4" stroke-width="0.9"/>
<path d="M334.04 168.9 L341.04 168.9 L337.54 173.4 Z M337.54 166.1 L337.54 173.4" fill="#5a68b8" fill-opacity="0.3" stroke="#3848a4" stroke-width="0.9"/>
<path d="M342.63 167.87 L349.63 167.87 L346.13 172.37 Z M346.13 165.07 L346.13 172.37" fill="#5a68b8" fill-opacity="0.3" stroke="#3848a4" stroke-width="0.9"/>
<path d="M351.23 166.82 L358.23 166.82 L354.73 171.32 Z M354.73 164.02 L354.73 171.32" fill="#5a68b8" fill-opacity="0.3" stroke="#3848a4" stroke-width="0.9"/>
<path d="M359.82 165.4 L366.82 165.4 L363.32 169.9 Z M363.32 162.6 L363.32 169.9" fill="#5a68b8" fill-opacity="0.3" stroke="#3848a4" stroke-width="0.9"/>
<path d="M368.42 164.15 L375.42 164.15 L371.92 168.65 Z M371.92 161.35 L371.92 168.65" fill="#5a68b8" fill-opacity="0.3" stroke="#3848a4" stroke-width="0.9"/>
<path d="M377.01 162.65 L384.01 162.65 L380.51 167.15 Z M380.51 159.85 L380.51 167.15" fill="#5a68b8" fill-opacity="0.3" stroke="#3848a4" stroke-width="0.9"/>
<path d="M385.61 161.88 L392.61 161.88 L389.11 166.38 Z M389.11 159.07 L389.11 166.38" fill="#5a68b8" fill-opacity="0.3" stroke="#3848a4" stroke-width="0.9"/>
<path d="M394.2 154.29 L401.2 154.29 L397.7 158.79 Z M397.7 151.49 L397.7 158.79" fill="#5a68b8" fill-opacity="0.3" stroke="#3848a4" stroke-width="0.9"/>
<path d="M400.39 149.76 L407.39 149.76 L403.89 154.26 Z M403.89 146.96 L403.89 154.26" fill="#5a68b8" fill-opacity="0.3" stroke="#3848a4" stroke-width="0.9"/>
</g>
<g font-size="14.5" fill="#000" text-anchor="end">
<text x="52.5" y="12.5">800</text>
<text x="52.5" y="76.5">600</text>
<text x="52.5" y="141.5">400</text>
<text x="52.5" y="206.5">200</text>
<text x="52.5" y="270.5">0</text>
</g>
<g font-size="14.5" fill="#000" text-anchor="middle">
<text x="59.2" y="284.3">0.0</text>
<text x="128.3" y="284.3">0.2</text>
<text x="197.7" y="284.3">0.4</text>
<text x="267.2" y="284.3">0.6</text>
<text x="336.4" y="284.3">0.8</text>
<text x="405.6" y="284.3">1.0</text>
</g>
<text x="156.5" y="307.5" font-size="14.5">Relative pressure (<tspan font-style="italic">P</tspan>/<tspan font-style="italic">P</tspan><tspan font-size="10" dy="3.8">0</tspan><tspan dy="-3.8">)</tspan></text>
<text transform="translate(11.6,216.5) rotate(-90)" font-size="14.5">Adsorption volume (ml/g)</text>
<!-- legend -->
<g stroke-width="1" fill="none">
<line x1="73" y1="19.5" x2="83.5" y2="19.5" stroke="#999"/><line x1="93" y1="19.5" x2="103.5" y2="19.5" stroke="#999"/>
<rect x="86.5" y="16.5" width="4" height="5" stroke="#888"/>
<line x1="73" y1="35" x2="84" y2="35" stroke="#b5d8a0"/><line x1="93" y1="35" x2="103" y2="35" stroke="#b5d8a0"/>
<path d="M88.4 31 L92 36.8 L84.8 36.8 Z" stroke="#9ccc84"/>
<line x1="160.5" y1="19.5" x2="171" y2="19.5" stroke="#ee8a90"/><line x1="181" y1="19.5" x2="191.5" y2="19.5" stroke="#ee8a90"/>
<circle cx="176" cy="19.3" r="2.9" stroke="#e86878"/>
<line x1="162" y1="35" x2="172.5" y2="35" stroke="#aab0d0"/><line x1="182.5" y1="35" x2="191.5" y2="35" stroke="#aab0d0"/>
<path d="M173.3 33 L181 33 L177.2 38.6 Z" fill="#b8bee0" stroke="#7f88c0"/><path d="M177.2 30 L177.2 38.6" stroke="#7480bc"/>
</g>
<g font-size="12.5" fill="#000">
<text x="106.6" y="22.8">KOH</text>
<text x="106.6" y="39.5">K<tspan font-size="9" dy="3.3">2</tspan><tspan dy="-3.3">CO</tspan><tspan font-size="9" dy="3.3">3</tspan></text>
<text x="196.2" y="22.8">NaOH</text>
<text x="196.2" y="39.5">Na<tspan font-size="9" dy="3.3">2</tspan><tspan dy="-3.3">CO</tspan><tspan font-size="9" dy="3.3">3</tspan></text>
</g>
</svg>
</body></html>
